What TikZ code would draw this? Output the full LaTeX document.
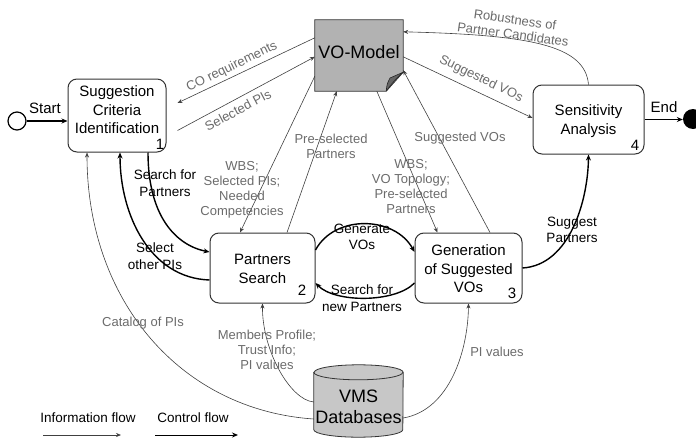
\documentclass[tikz,border=0pt]{standalone}
\usepackage{fontspec}
\setmainfont{Liberation Sans}
\usetikzlibrary{arrows.meta,calc}
\begin{document}
\begin{tikzpicture}[x=1pt,y=-1pt,
  box/.style={draw=black!80,line width=1pt,rounded corners=9pt,inner sep=0pt,fill=white},
  btxt/.style={align=center,font=\fontsize{15}{18.5}\selectfont,inner sep=0pt},
  num/.style={font=\fontsize{15}{18}\selectfont,inner sep=0pt},
  info/.style={draw=black!75,line width=0.6pt,-{Stealth[length=5pt,width=4pt]}},
  ctrl/.style={draw=black,line width=1.4pt,-{Stealth[length=6pt,width=5pt]}},
  ilab/.style={text=black!58,align=center,font=\fontsize{13}{15}\selectfont,inner sep=0pt},
  clab/.style={text=black,align=center,font=\fontsize{13.5}{16.5}\selectfont,inner sep=0pt},
]
\clip (0,0) rectangle (696,439);

% ---------- shape anchors ----------
\node[box,minimum width=98pt,minimum height=73pt] (b1) at (117,115.5) {};
\node[box,minimum width=105pt,minimum height=70pt] (b2) at (262.5,268) {};
\node[box,minimum width=107pt,minimum height=70pt] (b3) at (468.5,268) {};
\node[box,minimum width=111pt,minimum height=69pt] (b4) at (588.5,119.5) {};
\node[minimum width=88pt,minimum height=71pt,inner sep=0pt] (vo) at (359,55.5) {};
\node[minimum width=89pt,minimum height=72pt,inner sep=0pt] (vms) at (358.5,401) {};

% ---------- information flow ----------
\draw[info] ($(vo.north west)+(0,18)$) -- ($(b1.east)+(11,-12.5)$);
\draw[info] ($(b1.east)+(11,15)$) -- ($(vo.north west)+(0,37)$);
\draw[info] (b4.north) .. controls (585,45) and (530,35) .. ($(vo.north east)+(0,12)$);
\draw[info] ($(vo.north east)+(0,37)$) -- ($(b4.west)+(0,-1.5)$);
\draw[info] ($(vo.south west)+(0,-15)$) -- ($(b2.north)+(-22.5,0)$);
\draw[info] ($(b2.north)+(24.5,0)$) -- ($(vo.south west)+(22,0)$);
\draw[info] ($(vo.south west)+(62,0)$) -- ($(b3.north)+(-31,0)$);
\draw[info] ($(b3.north)+(21.5,0)$) -- ($(vo.south east)+(0,-21)$);
\draw[info] ($(vms.west)+(0,18)$) .. controls (180,410) and (87,300) .. ($(b1.south)+(-30,0)$);
\draw[info] ($(vms.west)+(0,1)$) .. controls (290,400) and (262,350) .. (b2.south);
\draw[info] ($(vms.east)+(0,17)$) .. controls (450,410) and (468,350) .. (b3.south);

% ---------- control flow ----------
\draw[ctrl] ($(b2.east)+(0,-18)$) .. controls (335,214) and (395,216) .. ($(b3.west)+(0,-16)$);
\draw[ctrl] ($(b3.west)+(0,15)$) .. controls (395,303) and (335,303) .. ($(b2.east)+(0,15)$);
\draw[ctrl] ($(b1.south)+(31,0)$) .. controls (148,215) and (175,245) .. ($(b2.west)+(0,-16)$);
\draw[ctrl] ($(b2.west)+(0,12)$) .. controls (150,278) and (120,215) .. ($(b1.south)+(3,0)$);
\draw[ctrl] (b3.east) .. controls (570,265) and (588,200) .. (b4.south);

% ---------- start / end ----------
\node[circle,draw,line width=1.2pt,minimum size=18pt,inner sep=0pt] (start) at (17,121) {};
\draw[ctrl] (start.east) -- (start.east -| b1.west);
\node[clab,font=\fontsize{15}{18}\selectfont] (lstart) at (45,108) {Start};
\node[circle,fill=black,minimum size=20pt,inner sep=0pt] (endc) at (693,119) {};
\draw[ctrl] (b4.east) -- (b4.east -| endc.west);
\node[clab,font=\fontsize{15}{18}\selectfont] (lend) at (664,107) {End};

% ---------- VO-Model ----------
\filldraw[fill=black!30,draw=black!80,line width=0.8pt] (vo.north west) -- (vo.north east) -- ($(vo.south east)+(0,-19)$) -- ($(vo.south east)+(-17,0)$) -- (vo.south west) -- cycle;
\filldraw[fill=black!60,draw=black!85,line width=0.6pt] ($(vo.south east)+(-17,0)$) .. controls (387,84) .. (390,78) -- ($(vo.south east)+(0,-19)$) .. controls (396,78) and (390,86) .. ($(vo.south east)+(-17,0)$);
\node[font=\fontsize{18}{20}\selectfont,inner sep=0pt] (vot) at (359,52) {VO-Model};

% ---------- VMS Databases ----------
\filldraw[fill=black!22,draw=black!80,line width=0.8pt] ($(vms.north west)+(0,7.5)$) -- ($(vms.south west)+(0,-7.5)$) arc[start angle=180,end angle=360,x radius=44.5pt,y radius=7.5pt] -- ($(vms.north east)+(0,7.5)$) arc[start angle=0,end angle=180,x radius=44.5pt,y radius=7.5pt] -- cycle;
\draw[draw=black!80,line width=0.8pt] ($(vms.north west)+(0,7.5)$) arc[start angle=180,end angle=360,x radius=44.5pt,y radius=7.5pt];
\node[align=center,font=\fontsize{18}{21}\selectfont,inner sep=0pt] (vmst) at (358.5,407) {VMS\\Databases};

% ---------- box texts ----------
\node[btxt] (b1t) at (117,110) {Suggestion\\Criteria\\Identification};
\node[num] (n1) at (160,144) {1};
\node[btxt] (b2t) at (262.5,269) {Partners\\Search};
\node[num] (n2) at (302,290) {2};
\node[btxt] (b3t) at (468.5,269) {Generation\\of Suggested\\VOs};
\node[num] (n3) at (512,293) {3};
\node[btxt] (b4t) at (588.5,121) {Sensitivity\\Analysis};
\node[num] (n4) at (635,145) {4};

% ---------- labels ----------
\node[ilab,rotate=26] (lco) at (232,67) {CO requirements};
\node[ilab,rotate=28] (lsp) at (238,110) {Selected PIs};
\node[ilab,rotate=-8] (lrob) at (514,27) {Robustness of\\Partner Candidates};
\node[ilab,rotate=-26] (lsv1) at (481,79) {Suggested VOs};
\node[ilab] (lwbs1) at (242,190) {WBS;\\Selected PIs;\\Needed\\Competencies};
\node[ilab] (lpre) at (331,146) {Pre-selected\\Partners};
\node[ilab] (lwbs2) at (411,187) {WBS;\\VO Topology;\\Pre-selected\\Partners};
\node[ilab] (lsv2) at (460,138) {Suggested VOs};
\node[ilab] (lcat) at (143,323) {Catalog of PIs};
\node[ilab] (lmem) at (267,350) {Members Profile;\\Trust Info;\\PI values};
\node[ilab] (lpiv) at (497,352) {PI values};
\node[clab] (lgen) at (362,237) {Generate\\VOs};
\node[clab] (lsnp) at (362,298) {Search for\\new Partners};
\node[clab] (lsfp) at (165,183) {Search for\\Partners};
\node[clab] (lsel) at (155,256) {Select\\other PIs};
\node[clab] (lsug) at (572,230) {Suggest\\Partners};

% ---------- legend ----------
\node[clab] (lgi) at (88,418) {Information flow};
\node[clab] (lgc) at (193,418) {Control flow};
\coordinate (li1) at (43,435);
\coordinate (li2) at (121,435);
\draw[info] (li1) -- (li2);
\coordinate (lc1) at (155,435);
\coordinate (lc2) at (238,435);
\draw[ctrl,line width=1pt] (lc1) -- (lc2);
\end{tikzpicture}
\end{document}
